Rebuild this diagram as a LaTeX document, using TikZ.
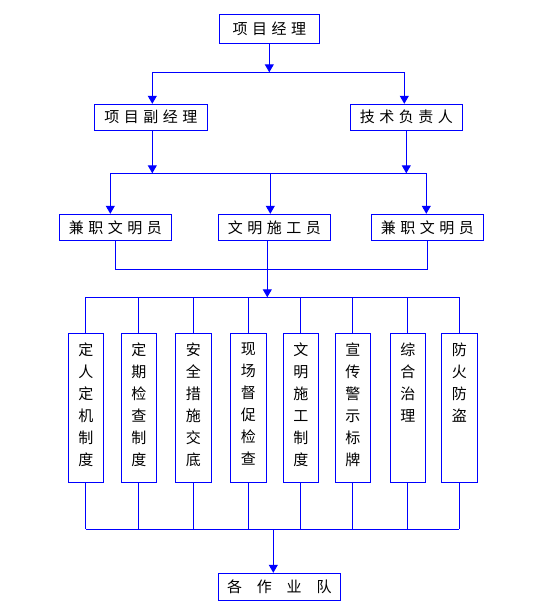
\documentclass[tikz,border=0pt]{standalone}
\usepackage{fontspec}
\newfontfamily\cjk{Noto Sans CJK SC}
\usetikzlibrary{arrows.meta}
\newcommand{\kg}{\hspace{4.5pt}}
\newcommand{\kgw}{\hspace{14.8pt}}
\begin{document}
\begin{tikzpicture}[x=1pt,y=-1pt,
  box/.style={draw=blue, line width=1pt, inner sep=0pt, text=black,
    font=\cjk\fontsize{15}{18}\selectfont},
  hbox/.style={box, minimum width=112pt, minimum height=26pt},
  vbox/.style={box, minimum width=35pt, minimum height=149pt},
  vtext/.style={anchor=north, inner sep=0pt, align=center, text=black,
    font=\cjk\fontsize{15}{22}\selectfont},
  link/.style={draw=blue, line width=1pt},
  arr/.style={link, -{Triangle[width=9pt,length=8pt]}}
]
\useasboundingbox (0,0) rectangle (540,610);
% boxes
\node[box, minimum width=100pt, minimum height=29pt] (pm) at (269.3,28.8) {项\kg 目\kg 经\kg 理};
\node[hbox, minimum width=113pt] (dpm) at (150.8,117.3) {项\kg 目\kg 副\kg 经\kg 理};
\node[hbox] (tech) at (406.3,117.3) {技\kg 术\kg 负\kg 责\kg 人};
\node[hbox] (c1) at (115.3,227.3) {兼\kg 职\kg 文\kg 明\kg 员};
\node[hbox] (c2) at (274.3,227.3) {文\kg 明\kg 施\kg 工\kg 员};
\node[hbox] (c3) at (427.3,227.3) {兼\kg 职\kg 文\kg 明\kg 员};
\node[vbox] (v1) at (85.8,407.8) {};
\node[vbox] (v2) at (138.8,407.8) {};
\node[vbox, minimum width=36pt] (v3) at (193.3,407.8) {};
\node[vbox, minimum width=36pt] (v4) at (248.3,407.8) {};
\node[vbox] (v5) at (300.8,407.8) {};
\node[vbox] (v6) at (352.8,407.8) {};
\node[vbox] (v7) at (407.8,407.8) {};
\node[vbox, minimum width=36pt] (v8) at (459.3,407.8) {};
\node[vtext] (t1) at ([yshift=-10pt]v1.north) {定\\人\\定\\机\\制\\度};
\node[vtext] (t2) at ([yshift=-10pt]v2.north) {定\\期\\检\\查\\制\\度};
\node[vtext] (t3) at ([yshift=-10pt]v3.north) {安\\全\\措\\施\\交\\底};
\node[vtext] (t4) at ([yshift=-10pt]v4.north) {现\\场\\督\\促\\检\\查};
\node[vtext] (t5) at ([yshift=-10pt]v5.north) {文\\明\\施\\工\\制\\度};
\node[vtext] (t6) at ([yshift=-10pt]v6.north) {宣\\传\\警\\示\\标\\牌};
\node[vtext] (t7) at ([yshift=-10pt]v7.north) {综\\合\\治\\理};
\node[vtext] (t8) at ([yshift=-10pt]v8.north) {防\\火\\防\\盗};
\node[box, minimum width=122pt, minimum height=27pt] (team) at (279.3,586.8) {各\kgw 作\kgw 业\kgw 队};
% junction coordinates
\coordinate (a1) at (269.3,72.3);
\coordinate (h1l) at (152.3,72.3);
\coordinate (h1r) at (404.3,72.3);
\coordinate (h2l) at (110.3,173.3);
\coordinate (h2m) at (270.3,173.3);
\coordinate (h2r) at (426.3,173.3);
\coordinate (h3l) at (115.3,269.3);
\coordinate (h3m) at (267.3,269.3);
\coordinate (h3r) at (427.3,269.3);
\coordinate (h4) at (267.3,297.3);
\coordinate (h5) at (273.3,529.3);
% connectors
\draw[arr] (pm.south) -- (a1);
\draw[link] (h1l) -- (h1r);
\draw[arr] (h1l) -- (h1l |- dpm.north);
\draw[arr] (h1r) -- (h1r |- tech.north);
\draw[arr] (h1l |- dpm.south) -- (h1l |- h2l);
\draw[arr] (tech.south) -- (tech.south |- h2r);
\draw[link] (h2l) -- (h2r);
\draw[arr] (h2l) -- (h2l |- c1.north);
\draw[arr] (h2m) -- (h2m |- c2.north);
\draw[arr] (h2r) -- (h2r |- c3.north);
\draw[link] (c1.south) -- (h3l) -- (h3r) -- (c3.south);
\draw[link] (h3m |- c2.south) -- (h3m);
\draw[arr] (h3m) -- (h4);
\draw[link] (v1.north |- h4) -- (v8.north |- h4);
\foreach \v in {v1,v2,v3,v4,v5,v6,v7,v8}{
  \draw[link] (\v.north) -- (\v.north |- h4);
  \draw[link] (\v.south) -- (\v.south |- h5);
}
\draw[link] (v1.south |- h5) -- (v8.south |- h5);
\draw[arr] (h5) -- (h5 |- team.north);
\end{tikzpicture}
\end{document}
